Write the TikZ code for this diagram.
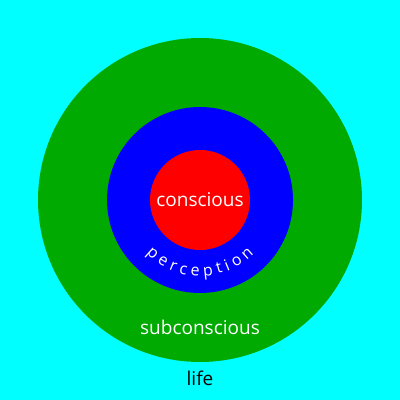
\documentclass[tikz,border=0pt]{standalone}
\usepackage{fontspec}
\setmainfont{Open Sans}
\definecolor{bgcyan}{RGB}{0,255,255}
\definecolor{subgreen}{RGB}{0,170,0}
\definecolor{perblue}{RGB}{0,0,255}
\definecolor{conred}{RGB}{255,0,0}
\newcommand\percfont{\fontsize{16}{16}\selectfont}
\begin{document}
\begin{tikzpicture}[x=1pt,y=1pt,
  ring/.style={circle, inner sep=0pt, draw=none},
  lbl/.style={font=\fontsize{19}{19}\selectfont, inner sep=0pt, anchor=base},
  arcletter/.style={inner sep=0pt, anchor=base, text=white, font=\percfont}]
\fill[bgcyan] (0,0) rectangle (400,400);
\useasboundingbox (0,0) rectangle (400,400);
\node[ring, fill=subgreen, minimum size=324pt] (sub) at (200,200) {};
\node[ring, fill=perblue, minimum size=186pt] (per) at (200,200) {};
\node[ring, fill=conred, minimum size=100pt] (con) at (200,200) {};
\node[lbl, text=white] (tcon) at (200,193.3) {conscious};
\node[lbl, text=white] (tsub) at (200,66) {subconscious};
\node[lbl, text=black] (tlife) at (200,14) {life};
% perception along the arc (baseline radius 76)
\foreach \ch/\sv [count=\i] in {p/-54.91, e/-41.22, r/-29.165, c/-17.775, e/-5.16,
                                  p/8.53, t/20.555, i/29.705, o/40.86, n/54.90}{%
  \pgfmathsetmacro\aang{270+\sv*0.75389}%
  \node[arcletter, rotate=\aang+90] (pc\i) at ([shift={(\aang:76)}]per.center) {\ch};
}
\end{tikzpicture}
\end{document}
